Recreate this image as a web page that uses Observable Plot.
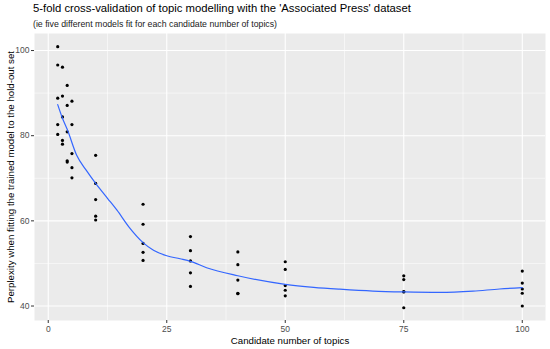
<!DOCTYPE html>
<html>
<head>
<meta charset="utf-8">
<script src="https://cdn.jsdelivr.net/npm/d3@7"></script>
<script src="https://cdn.jsdelivr.net/npm/@observablehq/plot@0.6"></script>
<style>
  body { margin: 0; background: #ffffff; font-family: "Liberation Sans", Arial, sans-serif; }
  #wrap { position: relative; width: 550px; height: 349px; }
  #title { position: absolute; left: 33px; top: 2px; font-size: 11.3px; color: #000; white-space: nowrap; }
  #subtitle { position: absolute; left: 33px; top: 19px; font-size: 8.75px; color: #1a1a1a; white-space: nowrap; }
  #chart { position: absolute; left: 0; top: 33px; }
</style>
</head>
<body>
<div id="wrap">
  <div id="title">5-fold cross-validation of topic modelling with the 'Associated Press' dataset</div>
  <div id="subtitle">(ie five different models fit for each candidate number of topics)</div>
  <div id="chart"></div>
</div>
<script>
// Cross-validation results: candidate number of topics and held-out perplexity
const topics = [
  2, 2, 2, 2, 2,
  3, 3, 3, 3, 3,
  4, 4, 4, 4, 4,
  5, 5, 5, 5, 5,
  10, 10, 10, 10, 10,
  20, 20, 20, 20, 20,
  30, 30, 30, 30, 30,
  40, 40, 40, 40, 40,
  50, 50, 50, 50, 50,
  75, 75, 75, 75, 75,
  100, 100, 100, 100, 100
];
const perplexity = [
  100.9, 96.6, 88.8, 82.6, 80.3,
  96.1, 89.3, 84.4, 78.9, 78.0,
  91.8, 87.1, 80.9, 74.1, 73.8,
  88.1, 82.6, 75.8, 72.5, 70.1,
  75.4, 68.8, 65.0, 61.1, 60.2,
  63.9, 59.2, 54.7, 52.6, 50.7,
  56.3, 53.0, 50.6, 47.8, 44.6,
  52.7, 49.7, 46.1, 43.0, 42.9,
  50.4, 48.6, 44.8, 43.7, 42.4,
  47.1, 46.2, 43.4, 43.3, 39.6,
  48.2, 45.4, 44.0, 43.0, 40.0
];

// Smoothed (loess) curve
const smoothX = [2, 3, 4, 6, 8, 10, 12.5, 14.5, 17, 20, 22.2, 25, 27.8, 30, 33.4, 40, 50, 56, 61.5, 68.5, 75, 82.6, 89.6, 95.2, 100];
const smoothY = [87.3, 84.1, 81.5, 75.4, 71.9, 68.8, 65.3, 62.5, 58.6, 54.9, 53.1, 51.8, 51.1, 50.5, 49.0, 47.1, 45.1, 44.4, 43.95, 43.5, 43.3, 43.2, 43.5, 44.0, 44.3];

// Axis ticks / grid
const xMajor = [0, 25, 50, 75, 100];
const xMinor = [12.5, 37.5, 62.5, 87.5];
const yMajor = [40, 60, 80, 100];
const yMinor = [50, 70, 90];

const points = topics.map((t, i) => ({topics: t, perplexity: perplexity[i]}));
const smooth = smoothX.map((x, i) => ({topics: x, perplexity: smoothY[i]}));

const chart = Plot.plot({
  width: 550,
  height: 316,
  marginLeft: 34,
  marginRight: 5,
  marginTop: 0,
  marginBottom: 29,
  style: {fontFamily: "'Liberation Sans', Arial, sans-serif", background: "transparent"},
  x: {domain: [-2.9, 104.9]},
  y: {domain: [36.6, 104.0]},
  marks: [
    Plot.frame({fill: "#EBEBEB", stroke: null}),
    Plot.ruleX(xMinor, {stroke: "#ffffff", strokeWidth: 0.55}),
    Plot.ruleY(yMinor, {stroke: "#ffffff", strokeWidth: 0.55}),
    Plot.ruleX(xMajor, {stroke: "#ffffff", strokeWidth: 1.1}),
    Plot.ruleY(yMajor, {stroke: "#ffffff", strokeWidth: 1.1}),
    Plot.axisX(xMajor, {tickSize: 3, tickPadding: 2, fontSize: 8.5, fill: "#4D4D4D", stroke: "#333333", label: null}),
    Plot.axisY(yMajor, {tickSize: 3, tickPadding: 2, fontSize: 8.5, fill: "#4D4D4D", stroke: "#333333", label: null}),
    Plot.dot(points, {x: "topics", y: "perplexity", r: 1.6, fill: "#000000", stroke: null}),
    Plot.line(smooth, {x: "topics", y: "perplexity", stroke: "#3366FF", strokeWidth: 1.2, curve: "monotone-x"}),
    Plot.text(["Candidate number of topics"], {frameAnchor: "bottom", dy: 20.5, fontSize: 9.7, fill: "#000000", lineAnchor: "middle"}),
    Plot.text(["Perplexity when fitting the trained model to the hold-out set"], {frameAnchor: "left", dx: -24, rotate: -90, fontSize: 9.7, fill: "#000000", lineAnchor: "middle", textAnchor: "middle"})
  ]
});
document.getElementById("chart").appendChild(chart);
</script>
</body>
</html>
